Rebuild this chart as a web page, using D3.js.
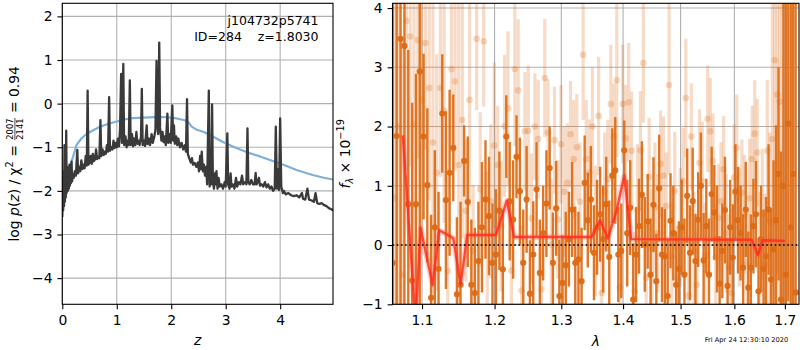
<!DOCTYPE html>
<html><head><meta charset="utf-8">
<script src="https://cdn.jsdelivr.net/npm/d3@7"></script>
<style>
body{margin:0;background:#fff}
svg{display:block}
text{font-family:"DejaVu Sans",sans-serif;white-space:pre}
</style>
</head><body>
<svg id="c" width="800" height="350"></svg>
<script>
// ---------------- data ----------------
const titleLines=["j104732p5741","ID=284    z=1.8030"];
const chiNum="2007", chiDen="2141", chiVal="0.94";
const dateText="Fri Apr 24 12:30:10 2020";

const pzZ=[0.000,0.008,0.016,0.024,0.032,0.040,0.048,0.056,0.064,0.072,0.080,0.090,0.100,0.110,0.120,0.130,0.140,0.150,0.160,0.170,0.180,0.195,0.210,0.230,0.250,0.275,0.290,0.310,0.330,0.350,0.370,0.390,0.410,0.430,0.450,0.465,0.480,0.500,0.520,0.540,0.560,0.580,0.600,0.620,0.640,0.660,0.680,0.700,0.715,0.740,0.760,0.780,0.800,0.820,0.840,0.860,0.875,0.900,0.920,0.940,0.960,0.980,1.000,1.020,1.040,1.060,1.080,1.095,1.120,1.135,1.160,1.180,1.200,1.220,1.240,1.255,1.280,1.300,1.320,1.340,1.360,1.380,1.400,1.420,1.445,1.460,1.475,1.500,1.520,1.550,1.565,1.590,1.610,1.640,1.660,1.690,1.710,1.730,1.745,1.760,1.780,1.795,1.820,1.840,1.860,1.880,1.900,1.930,1.945,1.970,1.990,2.020,2.035,2.050,2.065,2.090,2.110,2.130,2.160,2.190,2.220,2.250,2.270,2.290,2.305,2.330,2.360,2.380,2.400,2.430,2.460,2.490,2.510,2.530,2.545,2.560,2.580,2.600,2.620,2.640,2.660,2.690,2.705,2.720,2.735,2.750,2.765,2.785,2.800,2.815,2.830,2.850,2.870,2.890,2.920,2.950,2.980,3.000,3.030,3.045,3.070,3.090,3.105,3.130,3.160,3.190,3.210,3.240,3.270,3.300,3.320,3.350,3.380,3.400,3.415,3.440,3.470,3.500,3.530,3.550,3.565,3.590,3.610,3.630,3.660,3.690,3.720,3.750,3.780,3.810,3.840,3.870,3.900,3.920,3.940,3.960,3.980,4.000,4.020,4.050,4.070,4.100,4.150,4.200,4.250,4.300,4.350,4.400,4.420,4.460,4.500,4.530,4.580,4.620,4.650,4.680,4.720,4.760,4.800,4.850,4.900,4.940,4.970];
const pzLog=[-2.60,-1.70,-2.45,-1.55,-2.35,-0.95,-2.25,-1.50,-2.15,-0.62,-2.05,-1.45,-2.00,-1.60,-1.95,-1.40,-1.88,-1.55,-1.82,-1.33,-1.78,-1.62,-1.70,-1.55,-1.65,-1.06,-1.60,-1.45,-1.55,-1.30,-1.50,-1.40,-1.48,-1.20,-1.42,0.30,-1.40,-1.35,-1.20,-1.38,-1.15,-1.32,-1.28,-1.05,-1.27,-1.22,-1.25,-0.38,-1.20,-1.05,-1.18,-1.10,-1.15,-0.95,-1.10,0.15,-1.08,-1.00,-1.05,-0.85,-1.02,-0.90,-1.00,-0.80,-0.98,-0.60,0.68,-0.90,0.91,-0.95,-0.75,-1.00,-0.85,-0.95,0.53,-0.95,-0.70,-0.98,-0.80,-0.95,-0.65,-0.92,-0.85,-0.95,-0.75,0.34,-0.95,-0.85,-0.97,-0.50,-0.93,-0.80,-0.95,-0.70,-0.90,-0.75,-0.60,0.98,-0.40,-0.70,1.40,-0.55,-0.85,-0.65,-0.88,-0.75,-0.95,-0.23,-0.90,-0.70,-0.90,-0.04,-0.85,-0.50,-0.92,-0.75,-0.95,-0.80,-1.00,-0.90,-1.05,-0.95,-1.10,0.10,-1.15,-1.25,-1.35,-1.25,-1.40,-1.36,-1.45,-1.35,-1.55,-1.20,-1.50,-1.10,-1.55,-1.40,-1.65,-1.45,-1.85,0.30,-1.90,-1.50,-1.85,-0.02,-1.80,-1.95,-1.60,-1.85,-1.55,-1.95,-1.70,-1.90,-1.85,-1.95,-1.80,-1.90,-0.68,-1.85,-1.95,-1.60,-1.90,-1.85,-1.95,-1.70,-1.90,-1.80,-1.85,-1.65,-1.85,-1.80,-1.85,-0.57,-1.80,-1.85,-1.75,-1.85,-1.85,-1.59,-1.85,-1.80,-1.70,-1.88,-1.85,-1.90,-1.80,-1.92,-1.85,-1.95,-1.90,-2.00,-1.95,-0.53,-1.95,-1.50,-1.98,-0.34,-1.90,-2.05,-2.00,-2.08,-2.05,-2.10,-2.12,-2.10,-2.15,-2.05,-2.18,-2.20,-1.95,-2.20,-2.22,-2.25,-2.05,-2.28,-2.30,-2.28,-2.32,-2.35,-2.40,-2.42,-2.45];

const priorZ=[0.00,0.02,0.05,0.11,0.15,0.20,0.26,0.35,0.45,0.55,0.69,0.85,1.00,1.15,1.30,1.50,1.70,1.92,2.10,2.25,2.31,2.37,2.47,2.60,2.77,2.95,3.14,3.30,3.45,3.63,3.85,4.06,4.30,4.58,4.80,4.97];
const priorLog=[-2.00,-1.90,-1.75,-1.55,-1.40,-1.21,-0.95,-0.80,-0.69,-0.62,-0.53,-0.46,-0.41,-0.36,-0.33,-0.32,-0.31,-0.31,-0.34,-0.38,-0.42,-0.52,-0.60,-0.65,-0.76,-0.88,-0.99,-1.07,-1.14,-1.21,-1.31,-1.40,-1.52,-1.63,-1.70,-1.74];

const leftXTicks=[0,1,2,3,4];
const leftYTicks=[-4,-3,-2,-1,0,1,2];

const darkLam=[1.062,1.067,1.072,1.077,1.082,1.087,1.092,1.097,1.102,1.107,
1.112,1.117,1.122,1.127,1.132,1.137,1.142,1.147,1.152,1.157,
1.162,1.167,1.172,1.177,1.182,1.187,1.192,1.197,1.202,1.207,
1.212,1.217,1.222,1.227,1.232,1.237,1.242,1.247,1.252,1.257,
1.262,1.267,1.272,1.277,1.282,1.287,1.292,1.297,1.302,1.307,
1.312,1.317,1.322,1.327,1.332,1.337,1.342,1.347,1.352,1.357,
1.362,1.367,1.372,1.377,1.382,1.387,1.392,1.397,1.402,1.407,
1.412,1.417,1.422,1.427,1.432,1.437,1.442,1.447,1.452,1.457,
1.462,1.467,1.472,1.477,1.482,1.487,1.492,1.497,1.502,1.507,
1.512,1.517,1.522,1.527,1.532,1.537,1.542,1.547,1.552,1.557,
1.562,1.567,1.572,1.577,1.582,1.587,1.592,1.597,1.602,1.607,
1.612,1.617,1.622,1.627,1.632,1.637,1.642,1.647,1.652,1.657,
1.662,1.667,1.672,1.677,1.682,1.687,1.692,1.697,1.702,1.707,
1.712,1.717,1.722];
const darkFlux=[-0.3,1.84,3.48,3.36,0.69,-0.6,0.69,2.93,1.83,1.01,
-0.89,0.3,-0.4,2.22,0.76,1.22,1.64,-0.83,-0.67,1.42,
0.73,-0.67,-0.81,-0.27,0.3,0.77,0.49,-0.3,-0.16,0.58,
-0.41,1.83,0.74,0.43,1.49,0.91,-0.3,0.77,-0.82,-0.16,
0.94,-0.47,0.2,0.7,1.3,-0.3,0.62,-0.86,-0.64,-0.34,
0.1,0.6,-0.3,-0.24,-0.61,1.05,0.42,0.77,-0.13,0.3,
0.52,0.1,0.69,-0.2,1.17,1.26,-0.16,-0.1,1.6,0.2,
0.63,-0.92,-0.16,0.32,0.85,0.01,0.4,-0.5,0.68,-0.61,
0.96,-0.16,-0.19,-0.86,0.41,0.2,-0.67,-0.4,0.3,-0.5,
0.83,-0.13,0.74,-0.27,0.43,1.0,-0.26,0.32,-0.5,0.86,
0.55,0.1,-0.65,-0.1,0.59,-0.69,0.3,-0.21,0.9,0.42,
0.2,-0.38,0.6,-0.72,-0.38,0.32,0.52,-0.78,0.1,-0.4,
-0.19,0.6,-0.58,-0.07,0.42,1.2,-0.92,1.0,-0.5,2.05,
0.3,1.2,-0.8];
const darkErr=[5,4,5,4.5,2.6,3,2.2,4,1.4,1.3,
1.4,1.3,1.3,1.0,1.5,1.4,0.9,1.3,1.4,0.6,
1.1,1.1,1.1,1.0,1.1,1.0,1.0,1.0,1.1,1.0,
1.0,0.7,1.0,1.0,0.7,0.9,0.9,0.9,0.9,0.9,
0.8,0.9,0.8,0.9,0.7,0.85,0.8,0.95,0.8,0.9,
0.8,0.8,0.95,0.8,0.9,0.8,0.8,0.9,0.8,0.8,
0.8,0.9,0.8,0.95,0.8,0.9,0.8,0.8,0.5,0.9,
0.8,0.95,0.8,0.8,0.9,0.8,0.8,0.95,0.8,0.8,
0.9,0.8,0.8,0.95,0.8,0.8,0.9,0.8,0.8,0.95,
0.8,0.8,0.9,0.8,0.8,0.9,0.8,0.8,0.95,0.8,
0.8,0.9,0.8,0.8,0.9,0.8,0.8,0.9,0.8,0.9,
0.8,0.9,0.8,0.95,0.9,0.8,0.9,0.9,0.9,1.0,
1.0,1.1,1.2,1.5,1.6,1.8,2.5,5,5,3,
5,5,5];

const lightLam=[1.0645,1.0695,1.0745,1.0795,1.0845,1.0895,1.0945,1.0995,1.1045,1.1095,
1.1145,1.1195,1.1245,1.1295,1.1345,1.1395,1.1445,1.1495,1.1545,1.1595,
1.1645,1.1695,1.1745,1.1795,1.1845,1.1895,1.1945,1.1995,1.2045,1.2095,
1.2145,1.2195,1.2245,1.2295,1.2345,1.2395,1.2445,1.2495,1.2545,1.2595,
1.2645,1.2695,1.2745,1.2795,1.2845,1.2895,1.2945,1.2995,1.3045,1.3095,
1.3145,1.3195,1.3245,1.3295,1.3345,1.3395,1.3445,1.3495,1.3545,1.3595,
1.3645,1.3695,1.3745,1.3795,1.3845,1.3895,1.3945,1.3995,1.4045,1.4095,
1.4145,1.4195,1.4245,1.4295,1.4345,1.4395,1.4445,1.4495,1.4545,1.4595,
1.4645,1.4695,1.4745,1.4795,1.4845,1.4895,1.4945,1.4995,1.5045,1.5095,
1.5145,1.5195,1.5245,1.5295,1.5345,1.5395,1.5445,1.5495,1.5545,1.5595,
1.5645,1.5695,1.5745,1.5795,1.5845,1.5895,1.5945,1.5995,1.6045,1.6095,
1.6145,1.6195,1.6245,1.6295,1.6345,1.6395,1.6445,1.6495,1.6545,1.6595,
1.6645,1.6695,1.6745,1.6795,1.6845,1.6895,1.6945];
const lightFlux=[0.8,2.0,-0.5,3.78,3.52,2.04,3.46,2.45,3.41,2.65,
1.73,1.22,2.65,2.27,-0.44,2.97,2.76,1.35,2.11,0.58,
2.45,-0.1,3.48,0.94,3.44,0.04,0.74,1.68,1.35,0.32,
2.01,2.31,-0.43,2.97,2.61,-0.77,1.92,1.93,0.45,2.0,
1.79,-0.75,2.82,1.9,0.01,1.77,0.43,1.7,0.9,1.05,
1.87,1.45,1.65,0.73,3.21,1.45,1.22,2.0,0.24,2.18,
-0.81,0.9,1.11,2.38,1.83,2.78,-0.72,2.38,1.8,2.41,
1.59,-0.78,0.6,1.6,3.07,-0.55,1.15,-0.05,0.63,0.2,
1.37,1.17,0.66,2.7,-0.19,0.91,-0.58,0.3,1.08,2.48,
-0.85,1.83,-0.1,-0.67,1.39,1.08,-0.19,2.13,1.92,1.42,
-0.21,0.46,0.74,1.28,0.2,-0.38,-0.81,1.14,1.64,0.3,
0.88,0.52,-0.3,0.79,1.45,1.88,1.56,-0.1,0.52,-0.33,
1.59,0.4,1.79,3.12,2.54,2.42,1.0];
const lightErr=[4,3.5,4,2.5,2.2,2.8,2,2.4,1.8,1.9,
2.6,2,1.5,1.9,1.6,1.4,1.5,2.8,2.0,1.2,
1.8,1.1,1.2,1.3,1.1,1.2,1.3,1.4,1.0,1.1,
1.2,1.3,1.2,1.3,1.2,1.1,1.0,1.1,1.1,0.9,
1.0,1.0,1.0,0.9,1.1,0.9,1.0,1.0,1.1,1.0,
0.9,1.0,0.9,1.0,1.1,1.0,0.9,1.0,1.1,1.0,
1.0,1.0,1.0,1.0,0.9,1.3,1.0,1.0,0.9,1.0,
1.0,1.0,1.1,1.0,1.0,0.9,1.0,1.0,1.1,1.0,
0.9,1.0,0.9,1.5,0.9,1.0,0.9,1.0,0.9,1.0,
1.0,0.9,1.0,0.9,0.9,1.0,0.9,0.9,0.9,0.8,
0.9,0.9,1.0,0.9,1.0,0.9,0.9,0.9,0.9,1.0,
0.9,1.0,0.9,1.0,0.9,0.9,0.9,1.0,1.1,1.2,
1.2,1.5,2.5,2.8,3.0,3.5,4.0];

const modelLam=[1.075,1.0915,1.098,1.114,1.123,1.142,1.152,1.1614,1.202,1.2177,1.2284,1.348,1.362,1.3745,1.389,1.402,1.4135,1.6336,1.646,1.655,1.70];
const modelFlux=[1.85,-1.3,0.29,-0.67,0.25,0.12,-0.67,0.17,0.17,0.75,0.135,0.135,0.42,0.11,0.575,1.17,0.10,0.09,-0.17,0.08,0.07];

const rightXTicks=[1.1,1.2,1.3,1.4,1.5,1.6,1.7];
const rightYTicks=[-1,0,1,2,3,4];

// ---------------- drawing ----------------
const FS=13.9, GRID="#b0b0b0", ORANGE="#dc6a14";
const svg=d3.select("#c");

const L={x0:62.3,x1:333,y0:3.3,y1:304.3};
const R={x0:392.5,x1:799,y0:3.3,y1:304.3};
const Lx=d3.scaleLinear().domain([0,4.97]).range([L.x0,L.x1]);
const Ly=d3.scaleLinear().domain([-4.6,2.3]).range([L.y1,L.y0]);
const Rx=d3.scaleLog().domain([1.0617,1.729]).range([R.x0,R.x1]);
const Ry=d3.scaleLinear().domain([-1,4.08]).range([R.y1,R.y0]);

const defs=svg.append("defs");
defs.append("clipPath").attr("id","clipL").append("rect").attr("x",L.x0).attr("y",L.y0).attr("width",L.x1-L.x0).attr("height",L.y1-L.y0);
defs.append("clipPath").attr("id","clipR").append("rect").attr("x",R.x0).attr("y",R.y0).attr("width",R.x1-R.x0).attr("height",R.y1-R.y0);

function grid(P,xs,ys,xt,yt){
  const g=svg.append("g");
  g.selectAll(".gx").data(xt).join("line").attr("x1",d=>xs(d)).attr("x2",d=>xs(d)).attr("y1",P.y0).attr("y2",P.y1).attr("stroke",GRID).attr("stroke-width",1.1);
  g.selectAll(".gy").data(yt).join("line").attr("y1",d=>ys(d)).attr("y2",d=>ys(d)).attr("x1",P.x0).attr("x2",P.x1).attr("stroke",GRID).attr("stroke-width",1.1);
}
function styleAxis(g){
  g.select(".domain").remove();
  g.attr("font-size",FS).attr("font-family","DejaVu Sans");
  g.selectAll("line").attr("stroke","#000").attr("stroke-width",1.1);
  g.selectAll("text").attr("fill","#000");
}
function frame(P){
  svg.append("rect").attr("x",P.x0).attr("y",P.y0).attr("width",P.x1-P.x0).attr("height",P.y1-P.y0).attr("fill","none").attr("stroke","#000").attr("stroke-width",1.1);
}

// ===== Left panel =====
grid(L,Lx,Ly,leftXTicks,leftYTicks);
const gL=svg.append("g").attr("clip-path","url(#clipL)");
const lineL=d3.line().x(d=>Lx(d[0])).y(d=>Ly(d[1]));
gL.append("path").datum(priorZ.map((z,i)=>[z,priorLog[i]])).attr("d",lineL)
  .attr("fill","none").attr("stroke","#7fb0d9").attr("stroke-width",2.2).attr("stroke-linejoin","round");
gL.append("path").datum(pzZ.map((z,i)=>[z,pzLog[i]])).attr("d",lineL)
  .attr("fill","none").attr("stroke","#3a3a3a").attr("stroke-width",2.3).attr("stroke-linejoin","round");
frame(L);
svg.append("g").attr("transform",`translate(0,${L.y1})`)
  .call(d3.axisBottom(Lx).tickValues(leftXTicks).tickFormat(d3.format("d")).tickSize(4.9).tickPadding(5.9)).call(styleAxis);
svg.append("g").attr("transform",`translate(${L.x0},0)`)
  .call(d3.axisLeft(Ly).tickValues(leftYTicks).tickFormat(d3.format("d")).tickSize(4.9).tickPadding(4.9)).call(styleAxis);

svg.append("text").attr("x",318.5).attr("y",25).attr("text-anchor","end").attr("font-size",12.5).text(titleLines[0]);
svg.append("text").attr("x",318.5).attr("y",41).attr("text-anchor","end").attr("font-size",12.5).text(titleLines[1]);

svg.append("text").attr("x",(L.x0+L.x1)/2).attr("y",345).attr("text-anchor","middle")
  .attr("font-size",FS).attr("font-style","italic").text("z");

// left y label with stacked fraction
(function(){
  const outer=svg.append("g").attr("transform",`translate(18.6,${(L.y0+L.y1)/2}) rotate(-90)`);
  const g=outer.append("g");
  const t1=g.append("text").attr("font-size",FS);
  t1.append("tspan").text("log ");
  t1.append("tspan").attr("font-style","italic").text("p");
  t1.append("tspan").text("(");
  t1.append("tspan").attr("font-style","italic").text("z");
  t1.append("tspan").text(") / χ");
  t1.append("tspan").attr("font-size",FS*0.7).attr("dy",-5.5).text("2");
  t1.append("tspan").attr("dy",5.5).text(" = ");
  const w1=t1.node().getComputedTextLength();
  const fs2=FS*0.6;
  const num=g.append("text").attr("font-size",fs2).attr("text-anchor","middle").attr("y",-5.2).text(chiNum);
  const den=g.append("text").attr("font-size",fs2).attr("text-anchor","middle").attr("y",4.4).text(chiDen);
  const fw=Math.max(num.node().getComputedTextLength(),den.node().getComputedTextLength());
  num.attr("x",w1+1+fw/2); den.attr("x",w1+1+fw/2);
  g.append("line").attr("x1",w1+0.5).attr("x2",w1+fw+1.5).attr("y1",-3.7).attr("y2",-3.7).attr("stroke","#000").attr("stroke-width",0.7);
  const t3=g.append("text").attr("font-size",FS).attr("x",w1+fw+2).text(" = "+chiVal);
  const total=w1+fw+2+t3.node().getComputedTextLength();
  g.attr("transform",`translate(${-total/2},0)`);
})();

// ===== Right panel =====
grid(R,Rx,Ry,rightXTicks,rightYTicks);
const gR=svg.append("g").attr("clip-path","url(#clipR)");
const lightPts=lightLam.map((l,i)=>({l,f:lightFlux[i],e:lightErr[i]}));
const darkPts=darkLam.map((l,i)=>({l,f:darkFlux[i],e:darkErr[i]}));

gR.append("g").selectAll("line").data(lightPts).join("line")
  .attr("x1",d=>Rx(d.l)).attr("x2",d=>Rx(d.l)).attr("y1",d=>Ry(d.f-d.e)).attr("y2",d=>Ry(d.f+d.e))
  .attr("stroke",ORANGE).attr("stroke-opacity",0.24).attr("stroke-width",3.2);
gR.append("g").selectAll("circle").data(lightPts).join("circle")
  .attr("cx",d=>Rx(d.l)).attr("cy",d=>Ry(d.f)).attr("r",3.3)
  .attr("fill",ORANGE).attr("fill-opacity",0.25);
gR.append("g").selectAll("line").data(darkPts).join("line")
  .attr("x1",d=>Rx(d.l)).attr("x2",d=>Rx(d.l)).attr("y1",d=>Ry(d.f-d.e)).attr("y2",d=>Ry(d.f+d.e))
  .attr("stroke",ORANGE).attr("stroke-opacity",0.92).attr("stroke-width",2.4);
gR.append("g").selectAll("circle").data(darkPts).join("circle")
  .attr("cx",d=>Rx(d.l)).attr("cy",d=>Ry(d.f)).attr("r",3.1)
  .attr("fill",ORANGE).attr("fill-opacity",0.95);

const lineR=d3.line().x(d=>Rx(d[0])).y(d=>Ry(d[1]));
const mdl=modelLam.map((l,i)=>[l,modelFlux[i]]);
gR.append("path").datum(mdl).attr("d",lineR).attr("fill","none").attr("stroke","#ff5a5a").attr("stroke-opacity",0.3).attr("stroke-width",5.5).attr("stroke-linejoin","round");
gR.append("path").datum(mdl).attr("d",lineR).attr("fill","none").attr("stroke","#ff2a14").attr("stroke-opacity",0.8).attr("stroke-width",2.4).attr("stroke-linejoin","round");

svg.append("line").attr("x1",R.x0).attr("x2",R.x1).attr("y1",Ry(0)).attr("y2",Ry(0))
  .attr("stroke","#000").attr("stroke-width",1.6).attr("stroke-dasharray","1.6,2.6");

frame(R);
svg.append("g").attr("transform",`translate(0,${R.y1})`)
  .call(d3.axisBottom(Rx).tickValues(rightXTicks).tickFormat(d3.format(".1f")).tickSize(4.9).tickPadding(5.9)).call(styleAxis);
svg.append("g").attr("transform",`translate(${R.x0},0)`)
  .call(d3.axisLeft(Ry).tickValues(rightYTicks).tickFormat(d3.format("d")).tickSize(4.9).tickPadding(4.9)).call(styleAxis);

svg.append("text").attr("x",(R.x0+R.x1)/2).attr("y",345.5).attr("text-anchor","middle")
  .attr("font-size",FS).attr("font-style","italic").text("λ");

(function(){
  const g=svg.append("g").attr("transform",`translate(349.5,${(R.y0+R.y1)/2}) rotate(-90)`);
  const t=g.append("text").attr("font-size",FS).attr("text-anchor","middle");
  t.append("tspan").attr("font-style","italic").text("f");
  t.append("tspan").attr("font-size",FS*0.7).attr("font-style","italic").attr("dy",3).text("λ");
  t.append("tspan").attr("dy",-3).text(" × 10");
  t.append("tspan").attr("font-size",FS*0.7).attr("dy",-5.5).text("−19");
})();

svg.append("text").attr("x",788.3).attr("y",342).attr("text-anchor","end").attr("font-size",6.7).text(dateText);
</script>
</body></html>
